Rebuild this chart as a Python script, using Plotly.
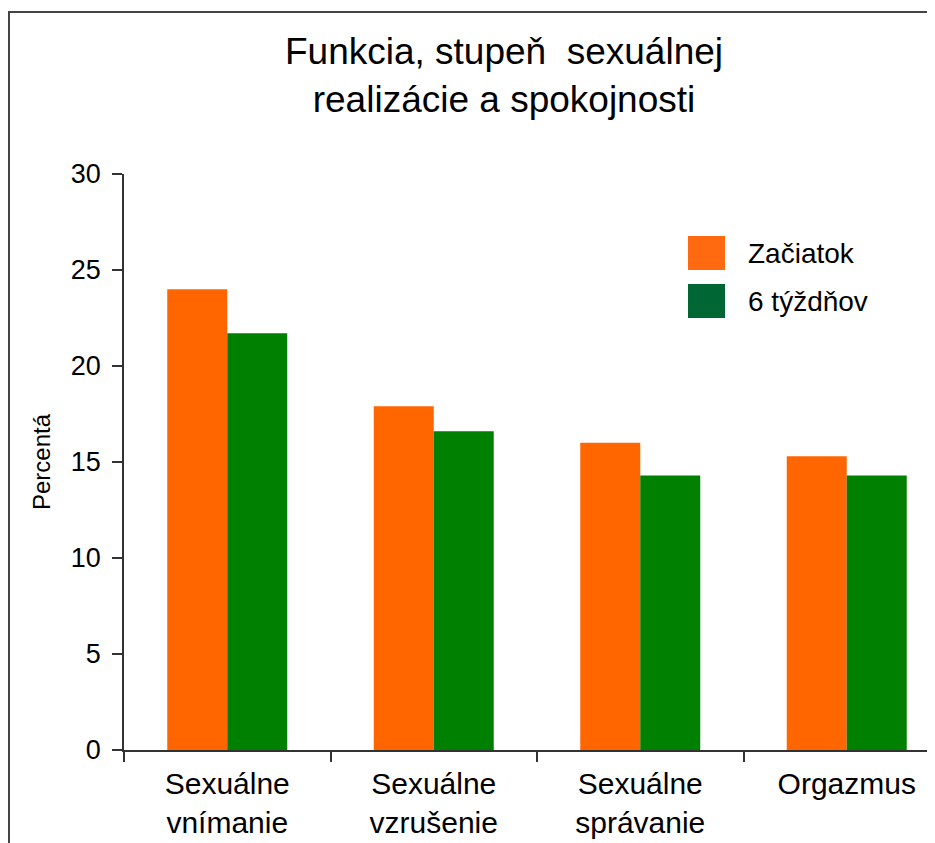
import plotly.graph_objects as go

categories = ["Sexuálne<br>vnímanie", "Sexuálne<br>vzrušenie", "Sexuálne<br>správanie", "Orgazmus"]
zaciatok = [24.0, 17.9, 16.0, 15.3]
tyzdnov6 = [21.7, 16.6, 14.3, 14.3]
series_names = ["Začiatok", "6 týždňov"]
y_ticks = [0, 5, 10, 15, 20, 25, 30]

OFF = 8  # page body margin offset
SW, SH = 935, 843          # screen size
W, H = SW - OFF, SH - OFF  # figure size so the page does not overflow
L, T = 124 - OFF, 174 - OFF
R = 0
B = H - (750 - OFF)
pw, ph = W - L - R, H - T - B

def px2x(px):
    return (px - OFF - L) / pw

def px2y(py):
    return (H - B - (py - OFF)) / ph

fig = go.Figure()
fig.add_trace(go.Bar(x=categories, y=zaciatok, name=series_names[0],
                     marker=dict(color="#FF6600", line=dict(width=0)), showlegend=False))
fig.add_trace(go.Bar(x=categories, y=tyzdnov6, name=series_names[1],
                     marker=dict(color="#008000", line=dict(width=0)), showlegend=False))

font = "Arial, Liberation Sans, sans-serif"

cat_w = 206.5
x_end = 3.5 - (124 + 4 * cat_w - SW) / cat_w

fig.update_layout(
    width=W, height=H,
    margin=dict(l=L, r=R, t=T, b=B, pad=0),
    paper_bgcolor="white", plot_bgcolor="white",
    barmode="group", bargap=0.419, bargroupgap=0,
    font=dict(family=font, color="black"),
    title=dict(text="Funkcia, stupeň  sexuálnej<br>realizácie a spokojnosti",
               x=(504 - OFF) / W, xref="container", xanchor="center",
               y=1 - (64 - OFF) / H, yref="container", yanchor="middle",
               font=dict(size=37, family=font, color="black")),
    xaxis=dict(type="category", range=[-0.5, x_end], showline=True, linecolor="#333",
               linewidth=1.5, ticks="outside", tickson="boundaries", ticklen=10,
               tickcolor="#333", tickwidth=1.5, tickfont=dict(size=30), showgrid=False,
               zeroline=False, ticklabelstandoff=6),
    yaxis=dict(range=[0, 30], tickvals=y_ticks, showline=True, linecolor="#333",
               linewidth=1.5, ticks="outside", ticklen=10, tickcolor="#333", tickwidth=1.5,
               tickfont=dict(size=27), showgrid=False, zeroline=False,
               ticklabelstandoff=6,
               title=dict(text="Percentá", font=dict(size=24), standoff=13)),
)

shapes = []
# outer frame: only top and left edges are visible in the picture
frame = dict(color="#444", width=2)
shapes.append(dict(type="line", xref="paper", yref="paper",
                   x0=px2x(8), x1=px2x(SW + 40), y0=px2y(12), y1=px2y(12),
                   line=frame, layer="above"))
shapes.append(dict(type="line", xref="paper", yref="paper",
                   x0=px2x(9), x1=px2x(9), y0=px2y(11), y1=px2y(SH + 40),
                   line=frame, layer="above"))
# legend swatches
leg_cols = ["#FF6A10", "#006633"]
leg_y = [(236, 270), (284, 318)]
for c, (y0, y1) in zip(leg_cols, leg_y):
    shapes.append(dict(type="rect", xref="paper", yref="paper",
                       x0=px2x(688), x1=px2x(725), y0=px2y(y1), y1=px2y(y0),
                       line=dict(width=0), fillcolor=c, layer="above"))
fig.update_layout(shapes=shapes)

annotations = []
for name, yc in zip(series_names, [253, 301]):
    annotations.append(dict(text=name, xref="paper", yref="paper", x=px2x(746), y=px2y(yc),
                            xanchor="left", yanchor="middle", showarrow=False,
                            font=dict(size=28, family=font, color="black")))
fig.update_layout(annotations=annotations)

fig.write_html("out.html", config={"displayModeBar": False})
